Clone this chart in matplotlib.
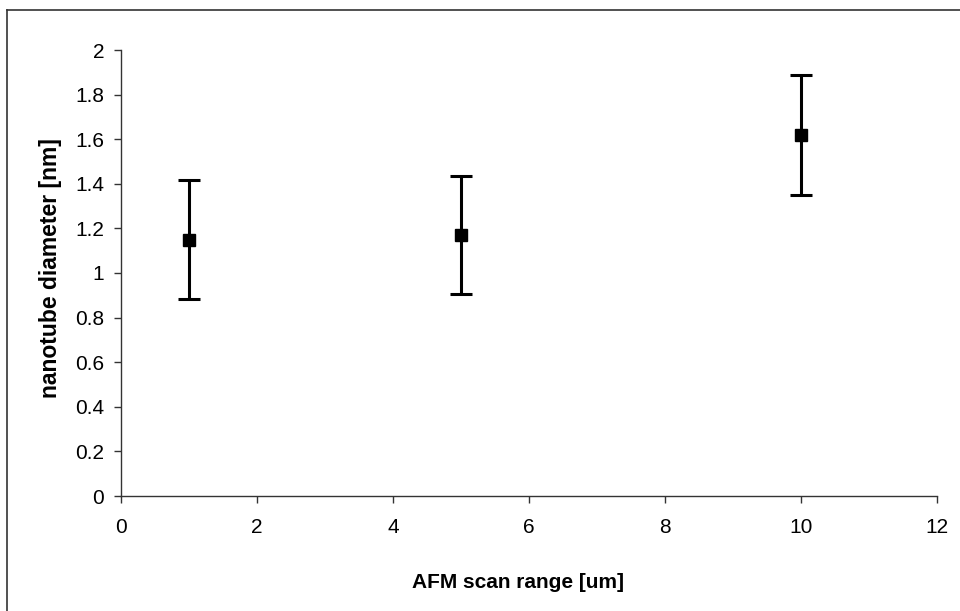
import matplotlib
matplotlib.use("Agg")
import matplotlib.pyplot as plt
from matplotlib.lines import Line2D

# data
scan_range = [1, 5, 10]
diameter = [1.15, 1.17, 1.62]
diameter_err = [0.265, 0.265, 0.27]

x_ticks = [0, 2, 4, 6, 8, 10, 12]
y_ticks = [0, 0.2, 0.4, 0.6, 0.8, 1, 1.2, 1.4, 1.6, 1.8, 2]
y_tick_labels = ['0', '0.2', '0.4', '0.6', '0.8', '1', '1.2', '1.4', '1.6', '1.8', '2']

plt.rcParams['font.family'] = ['Liberation Sans', 'DejaVu Sans']

W, H = 960, 611
fig = plt.figure(figsize=(W / 100, H / 100), dpi=100)
ax = fig.add_axes([121 / W, (H - 496) / H, (937 - 121) / W, (496 - 50) / H])

ax.errorbar(scan_range, diameter, yerr=diameter_err, fmt='s', color='black',
            markersize=8, elinewidth=2.2, capsize=8, capthick=2.2)

ax.set_xlim(0, 12)
ax.set_ylim(0, 2)
ax.set_xticks(x_ticks)
ax.set_yticks(y_ticks)
ax.set_yticklabels(y_tick_labels)

for side in ['top', 'right']:
    ax.spines[side].set_visible(False)
for side in ['left', 'bottom']:
    ax.spines[side].set_color('#333333')
    ax.spines[side].set_linewidth(1.0)

ax.tick_params(axis='both', direction='out', length=5, width=1, color='#333333',
               labelsize=15)
ax.tick_params(axis='y', pad=7)
ax.tick_params(axis='x', pad=11)

ax.set_xlabel('AFM scan range [um]', fontsize=15, fontweight='bold', va='center')
ax.set_ylabel('nanotube diameter [nm]', fontsize=16.5, fontweight='bold', va='center')
ax.xaxis.set_label_coords(0.487, -0.195)
ax.yaxis.set_label_coords(-0.087, 0.51)

# outer frame (only top and left edges are visible in the scan)
fig.add_artist(Line2D([7 / W, 1], [(H - 10) / H, (H - 10) / H], color='#333333', lw=1.2,
                      transform=fig.transFigure))
fig.add_artist(Line2D([7 / W, 7 / W], [0, (H - 10) / H], color='#333333', lw=1.2,
                      transform=fig.transFigure))

fig.savefig('out.png', dpi=100)
